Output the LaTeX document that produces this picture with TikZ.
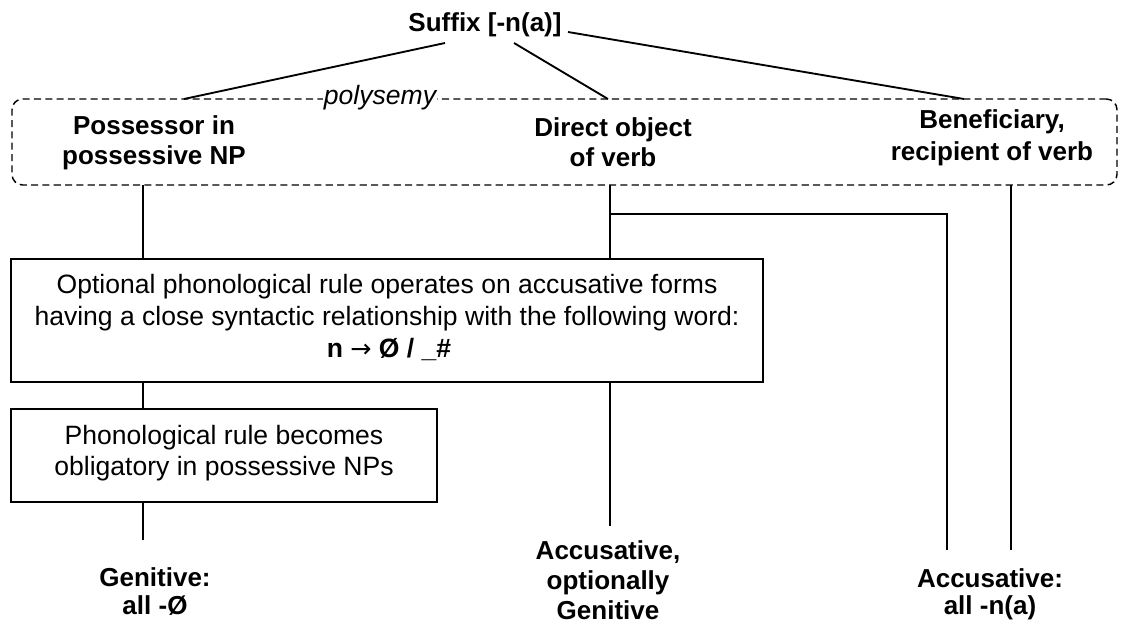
\documentclass[tikz,border=0pt]{standalone}
\usepackage{fontspec}
\setmainfont{Liberation Sans}
\newfontfamily\arrowfont{DejaVu Sans}
\begin{document}
\begin{tikzpicture}[x=0.75pt,y=-0.75pt,line width=1.4pt,
  lb/.style={font=\fontsize{19.5}{23}\selectfont\bfseries,anchor=base,inner sep=0pt},
  rg/.style={font=\fontsize{19.9}{23.5}\selectfont,anchor=base,inner sep=0pt},
  box/.style={draw,line width=1.5pt,inner sep=0pt},
  conn/.style={line width=1.4pt}]
\useasboundingbox (0,0) rectangle (1121,624);
% top label
\node[lb] (suffix) at (485,32) {Suffix [-n(a)]};
\coordinate (sL) at (445,43);
\coordinate (sM) at (514,43);
\coordinate (sR) at (568,32);
\coordinate (eL) at (184,99);
\coordinate (eM) at (608,99);
\coordinate (eR) at (964,99);
% polysemy box
\node[draw,dash pattern=on 5.3pt off 3.2pt,rounded corners=8pt,line width=1.1pt,
      minimum width=828.75pt,minimum height=64.5pt,inner sep=0pt] (poly) at (564.5,142) {};
\node[rg,font=\fontsize{19.9}{23.5}\selectfont\itshape,fill=white,inner xsep=1pt,inner ysep=0pt] (polylab) at (380,105) {polysemy};
\draw[conn] (sL) -- (eL);
\draw[conn] (sM) -- (eM);
\draw[conn] (sR) -- (eR);
\node[lb] (possA) at (154,135) {Possessor in};
\node[lb] (possB) at (154,165) {possessive NP};
\node[lb] (dobjA) at (613,137) {Direct object};
\node[lb] (dobjB) at (613,167) {of verb};
\node[lb] (beneA) at (992,129) {Beneficiary,};
\node[lb] (beneB) at (992,161) {recipient of verb};
% boxes
\node[box,minimum width=564pt,minimum height=92.25pt] (rule) at (387,320.5) {};
\node[rg] (ruleA) at (387,293) {Optional phonological rule operates on accusative forms};
\node[rg] (ruleB) at (387,325) {having a close syntactic relationship with the following word:};
\node[rg,font=\fontsize{19.9}{23.5}\selectfont\bfseries] (ruleC) at (389,357) {n {\arrowfont\mdseries\fontsize{19}{20}\selectfont →} Ø / \_\#};
\node[box,minimum width=319.5pt,minimum height=69.75pt] (oblig) at (224,455.5) {};
\node[rg] (obligA) at (224,444) {Phonological rule becomes};
\node[rg] (obligB) at (224,475) {obligatory in possessive NPs};
% results
\node[lb] (genA) at (155,586) {Genitive:};
\node[lb] (genB) at (155,614) {all -Ø};
\node[lb] (accA) at (608,559) {Accusative,};
\node[lb] (accB) at (608,589) {optionally};
\node[lb] (accC) at (608,619) {Genitive};
\node[lb] (allA) at (990,587) {Accusative:};
\node[lb] (allB) at (990,614) {all -n(a)};
% connectors
\coordinate (pA) at (143,185);
\coordinate (dA) at (610,185);
\coordinate (bA) at (1011,185);
\coordinate (gEnd) at (143,540);
\coordinate (dEnd) at (610,526);
\coordinate (bEnd) at (1011,550);
\coordinate (elbow) at (610,214);
\coordinate (eEnd) at (947,550);
\draw[conn] (pA) -- (pA |- rule.north);
\draw[conn] (pA |- rule.south) -- (pA |- oblig.north);
\draw[conn] (pA |- oblig.south) -- (gEnd);
\draw[conn] (dA) -- (dA |- rule.north);
\draw[conn] (dA |- rule.south) -- (dEnd);
\draw[conn] (elbow) -| (eEnd);
\draw[conn] (bA) -- (bEnd);
\end{tikzpicture}
\end{document}
